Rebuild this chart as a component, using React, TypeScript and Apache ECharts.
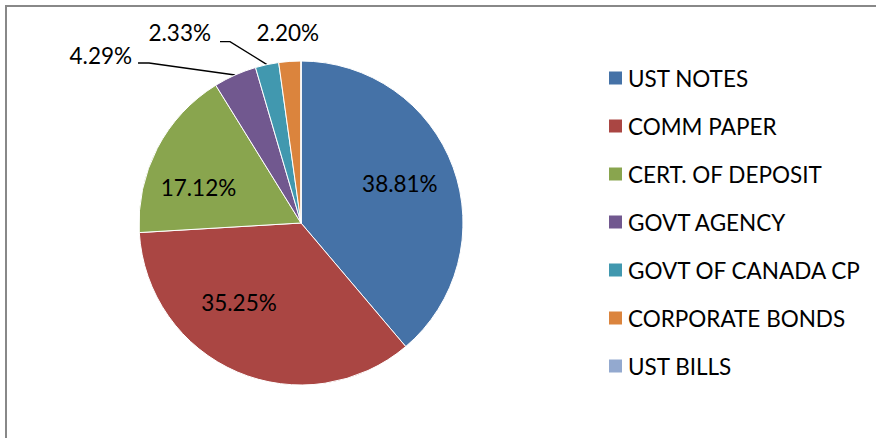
import React, { useEffect, useRef } from "react";
import * as echarts from "echarts";

const categories = [
  "UST NOTES",
  "COMM PAPER",
  "CERT. OF DEPOSIT",
  "GOVT AGENCY",
  "GOVT OF CANADA CP",
  "CORPORATE BONDS",
  "UST BILLS",
];
const values = [38.81, 35.25, 17.12, 4.29, 2.33, 2.2, 0];
const colors = ["#4572A7", "#AA4643", "#89A54E", "#71588F", "#4198AF", "#DB843D", "#93A9CF"];

// label placement tweaks (style only)
const insideShift: Record<number, [number, number]> = {
  0: [20, -11],
  1: [-29, 2],
  2: [-28, 3],
};
const outsidePlace: Record<number, { lx: number; ly: number; align: string; line: number[] | null }> = {
  3: { lx: -103, ly: -20, align: "right", line: [-86, -12, -97, -12] },
  4: { lx: -56, ly: -32, align: "right", line: [-37, -23, -47, -23] },
  5: { lx: -2, ly: -29, align: "center", line: null },
};

const FONT = "Lato, 'Open Sans', sans-serif";

export default function App() {
  const ref = useRef<HTMLDivElement>(null);
  useEffect(() => {
    if (!ref.current) return;
    const chart = echarts.init(ref.current, undefined, { renderer: "svg" });
    const data = categories.map((name, i) => {
      const isInside = i in insideShift;
      const isOutside = i in outsidePlace;
      const hidden = !isInside && !isOutside;
      return {
        name,
        value: values[i],
        itemStyle: { color: colors[i] },
        label: hidden
          ? { show: false }
          : { show: true, position: isInside ? "inside" : "outside" },
        labelLine: hidden || isInside
          ? { show: false }
          : {
              show: true,
              length: 10,
              length2: 10,
              lineStyle: { color: "#000", width: 1.4, opacity: outsidePlace[i].line ? 1 : 0 },
            },
      };
    });
    chart.setOption({
      animation: false,
      backgroundColor: "#fff",
      graphic: [
        {
          type: "rect",
          shape: { x: 6, y: 6, width: 1000, height: 1000 },
          style: { fill: "none", stroke: "#888888", lineWidth: 2 },
          silent: true,
        },
      ],
      legend: {
        orient: "vertical",
        left: 602,
        top: 61,
        itemWidth: 15,
        itemHeight: 15,
        itemGap: 24,
        icon: "rect",
        selectedMode: false,
        textStyle: { fontFamily: FONT, fontSize: 22.5, color: "#000", lineHeight: 24 },
        data: categories,
      },
      series: [
        {
          type: "pie",
          center: [301, 223],
          radius: 162,
          startAngle: 90,
          clockwise: true,
          silent: true,
          avoidLabelOverlap: false,
          itemStyle: { borderColor: "#fff", borderWidth: 1 },
          emphasis: { disabled: true },
          label: {
            fontFamily: FONT,
            fontSize: 22.5,
            color: "#000",
            formatter: (p: any) => p.percent.toFixed(2) + "%",
          },
          labelLayout: (params: any) => {
            const i = params.dataIndex;
            const s = insideShift[i];
            if (s) return { dx: s[0], dy: s[1] };
            const o = outsidePlace[i];
            if (o && params.labelLinePoints) {
              const [ax, ay] = params.labelLinePoints[0];
              const pts = o.line
                ? [
                    [ax, ay],
                    [ax + o.line[0], ay + o.line[1]],
                    [ax + o.line[2], ay + o.line[3]],
                  ]
                : [
                    [ax, ay],
                    [ax, ay],
                    [ax, ay],
                  ];
              return {
                x: ax + o.lx,
                y: ay + o.ly,
                align: o.align,
                verticalAlign: "middle",
                labelLinePoints: pts,
              };
            }
            return {};
          },
          data,
        },
      ],
    });
    return () => chart.dispose();
  }, []);
  return (
    <div
      ref={ref}
      style={{ position: "fixed", left: 0, top: 0, width: 876, height: 438 }}
    />
  );
}
